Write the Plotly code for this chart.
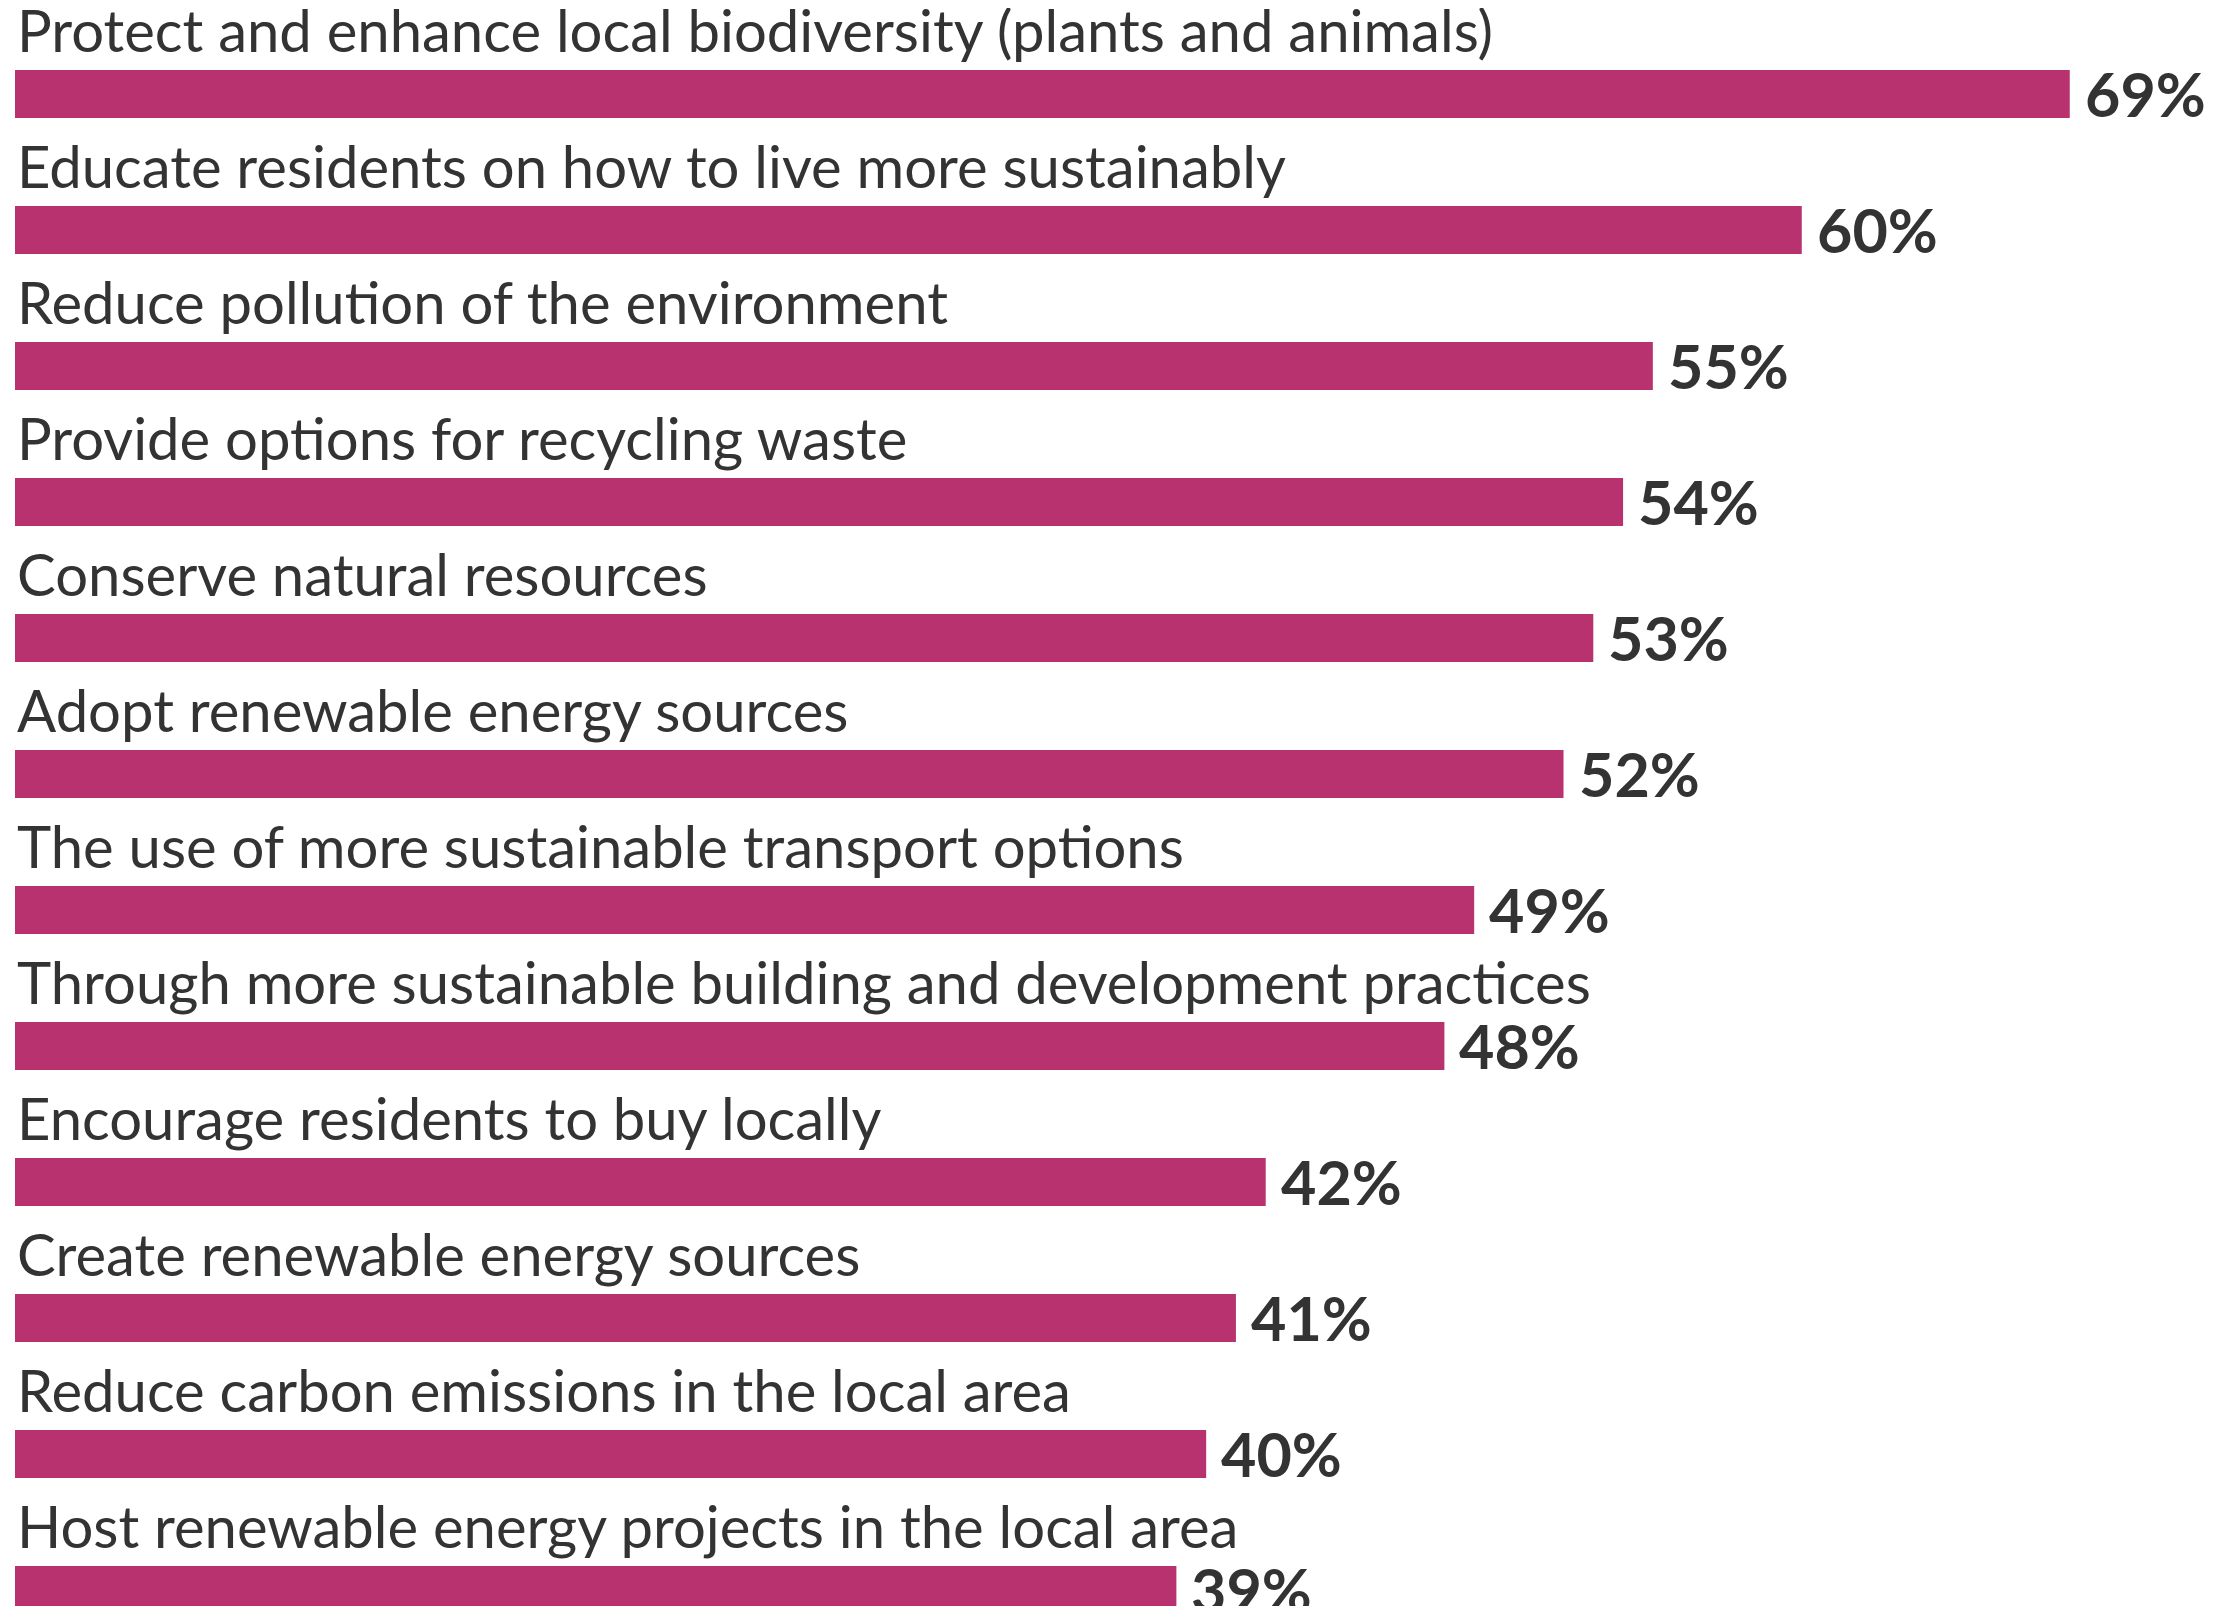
import plotly.graph_objects as go

categories = [
    "Protect and enhance local biodiversity (plants and animals)",
    "Educate residents on how to live more sustainably",
    "Reduce pollution of the environment",
    "Provide options for recycling waste",
    "Conserve natural resources",
    "Adopt renewable energy sources",
    "The use of more sustainable transport options",
    "Through more sustainable building and development practices",
    "Encourage residents to buy locally",
    "Create renewable energy sources",
    "Reduce carbon emissions in the local area",
    "Host renewable energy projects in the local area",
]
values = [69, 60, 55, 54, 53, 52, 49, 48, 42, 41, 40, 39]

BAR_COLOR = "#b8326f"
TEXT_COLOR = "#333333"
FONT = "Lato"
bar_w = 0.353

positions = list(range(len(categories)))

fig = go.Figure()
fig.add_trace(go.Bar(
    x=values,
    y=positions,
    orientation="h",
    width=bar_w,
    marker=dict(color=BAR_COLOR, line=dict(width=0)),
    hoverinfo="skip",
))

annotations = []
for pos, cat, val in zip(positions, categories, values):
    # question label sits above its bar
    annotations.append(dict(
        x=0, y=pos - bar_w / 2, xref="x", yref="y",
        text=cat, showarrow=False,
        xanchor="left", yanchor="bottom", yshift=4,
        font=dict(family=FONT, size=58, color=TEXT_COLOR),
    ))
    # value label to the right of the bar
    annotations.append(dict(
        x=val, y=pos, xref="x", yref="y",
        text=f"<b>{val}%</b>", showarrow=False,
        xanchor="left", yanchor="middle", xshift=13, yshift=0,
        font=dict(family=FONT, size=61, color=TEXT_COLOR),
    ))

# page body has an 8px margin, so the figure is a bit smaller than the window
fig.update_layout(
    width=2205,
    height=1598,
    margin=dict(l=0, r=0, t=0, b=0),
    paper_bgcolor="white",
    plot_bgcolor="white",
    showlegend=False,
    annotations=annotations,
    xaxis=dict(range=[-0.235, 73.81], visible=False, fixedrange=True),
    yaxis=dict(range=[11.118, -0.632], visible=False, fixedrange=True),
)

fig.write_html("out.html")
